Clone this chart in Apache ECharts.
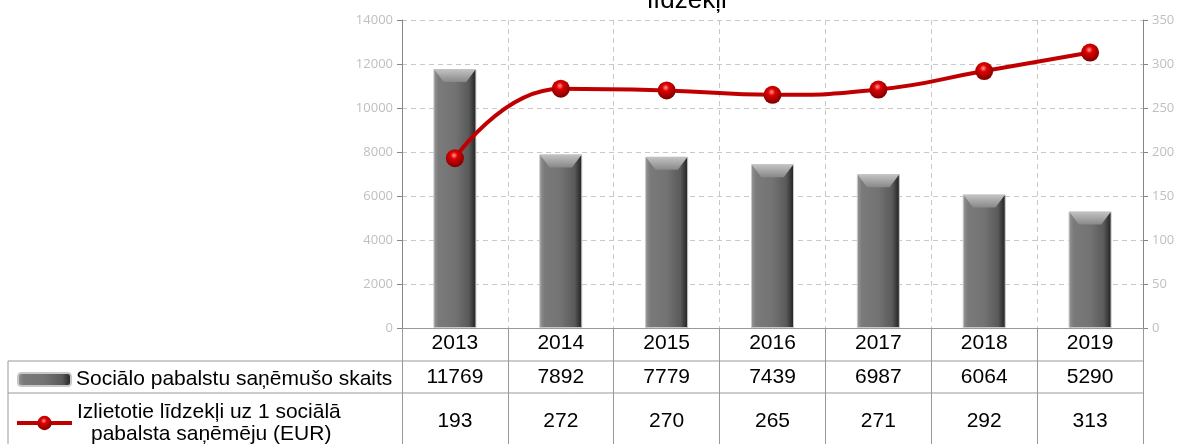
<!DOCTYPE html>
<html>
<head>
<meta charset="utf-8">
<script src="https://cdn.jsdelivr.net/npm/echarts@6/dist/echarts.min.js"></script>
<style>
  html, body { margin: 0; padding: 0; background: #fff; }
  #chart { width: 1185px; height: 444px; }
</style>
</head>
<body>
<div id="chart"></div>
<script>
// data
const years = ['2013', '2014', '2015', '2016', '2017', '2018', '2019'];
const recipients = [11769, 7892, 7779, 7439, 6987, 6064, 5290];
const spendPerRecipient = [193, 272, 270, 265, 271, 292, 313];
const leftTicks = [0, 2000, 4000, 6000, 8000, 10000, 12000, 14000];
const rightTicks = [0, 50, 100, 150, 200, 250, 300, 350];

const barName = 'Sociālo pabalstu saņēmušo skaits';
const lineName = 'Izlietotie līdzekļi uz 1 sociālā pabalsta saņēmēju (EUR)';

const FONT = '"Liberation Sans", Arial, sans-serif';
const chart = echarts.init(document.getElementById('chart'));

// stulpiņa krāsa (slīpums kā Excel bevel)
const barColor = new echarts.graphic.LinearGradient(0, 0, 1, 0, [
  { offset: 0, color: '#979797' },
  { offset: 0.12, color: '#7a7a7a' },
  { offset: 0.5, color: '#737373' },
  { offset: 0.82, color: '#5a5a5a' },
  { offset: 1, color: '#1e1e1e' }
]);
const capColor = new echarts.graphic.LinearGradient(0, 0, 0, 1, [
  { offset: 0, color: '#c4c4c4' },
  { offset: 1, color: '#888888' }
]);
const sphere = {
  type: 'radial', x: 0.45, y: 0.35, r: 0.65,
  colorStops: [
    { offset: 0, color: '#ff9a9a' },
    { offset: 0.3, color: '#e00000' },
    { offset: 1, color: '#7a0000' }
  ]
};

const valueAxisBase = {
  type: 'value',
  min: 0,
  axisLine: { show: true, lineStyle: { color: '#868686' } },
  axisTick: { show: true, length: 5, lineStyle: { color: '#868686' } },
  axisLabel: {
    color: '#bfbfbf', fontSize: 13, fontFamily: '"Open Sans", "Liberation Sans", sans-serif', margin: 9,
    formatter: v => String(v)
  },
  splitLine: { show: true, lineStyle: { color: '#c8c8c8', type: [5, 4] } }
};

// rindas tabulā zem ass
const tableAxis = (labels, offset) => ({
  type: 'category',
  data: years,
  position: 'bottom',
  offset: offset,
  axisLine: { show: false },
  axisTick: { show: false },
  splitLine: { show: false },
  axisLabel: {
    interval: 0,
    margin: 5,
    color: '#000',
    fontSize: 21,
    fontFamily: FONT,
    formatter: (v, i) => String(labels[i])
  }
});

const option = {
  animation: false,
  textStyle: { fontFamily: FONT },
  grid: { left: 402, right: 42, top: 20, bottom: 116, containLabel: false },
  legend: [
    {
      data: [barName],
      left: 17, top: 369, padding: 0,
      itemWidth: 53, itemHeight: 13, itemGap: 3,
      textStyle: { color: '#000', fontSize: 21, fontFamily: FONT }
    },
    {
      data: [lineName],
      left: 15, top: 401, padding: 0,
      itemWidth: 55, itemHeight: 18, itemGap: 3,
      lineStyle: { width: 4 },
      formatter: () => '{a|Izlietotie līdzekļi uz 1 sociālā}\n{b|pabalsta saņēmēju (EUR)}',
      textStyle: {
        color: '#000', fontSize: 21, fontFamily: FONT, lineHeight: 22,
        rich: {
          a: { fontSize: 21, fontFamily: FONT, color: '#000', lineHeight: 22 },
          b: { fontSize: 21, fontFamily: FONT, color: '#000', lineHeight: 22, padding: [0, 0, 0, 14] }
        }
      }
    }
  ],
  xAxis: [
    {
      type: 'category',
      data: years,
      axisLine: { lineStyle: { color: '#999' } },
      axisTick: { show: true, interval: 0, length: 116, lineStyle: { color: '#999' } },
      axisLabel: { interval: 0, margin: 5, color: '#000', fontSize: 21, fontFamily: FONT },
      splitLine: { show: true, interval: 0, lineStyle: { color: '#c8c8c8', type: [5, 4] } }
    },
    tableAxis(recipients, 34),
    tableAxis(spendPerRecipient, 78)
  ],
  yAxis: [
    Object.assign({}, valueAxisBase, {
      max: leftTicks[leftTicks.length - 1],
      interval: leftTicks[1] - leftTicks[0],
      position: 'left'
    }),
    Object.assign({}, valueAxisBase, {
      max: rightTicks[rightTicks.length - 1],
      interval: rightTicks[1] - rightTicks[0],
      position: 'right',
      splitLine: { show: false }
    })
  ],
  series: [
    {
      name: barName,
      type: 'bar',
      data: recipients,
      barWidth: 43,
      itemStyle: { color: barColor, borderColor: '#c8c8c8', borderWidth: 1 },
      z: 2
    },
    {
      // stulpiņa augšējā nošķeltā mala
      name: 'cap',
      type: 'pictorialBar',
      data: recipients,
      symbol: 'path://M0,0 L43,0 L33,13 L10,13 Z',
      symbolSize: [42, 13],
      symbolPosition: 'end',
      symbolOffset: [0, 0],
      itemStyle: { color: capColor },
      z: 3,
      silent: true
    },
    {
      name: lineName,
      type: 'line',
      yAxisIndex: 1,
      data: spendPerRecipient,
      smooth: 0.5,
      symbol: 'circle',
      symbolSize: 18,
      lineStyle: { color: '#c00000', width: 4 },
      itemStyle: { color: sphere, borderWidth: 0 },
      z: 5
    }
  ],
  graphic: [
    {
      type: 'text',
      style: {
        text: 'līdzekļi', x: 687, y: 14,
        textAlign: 'center', textVerticalAlign: 'bottom',
        fontSize: 26, fontFamily: FONT, fill: '#000'
      }
    },
    { type: 'line', shape: { x1: 8, y1: 361, x2: 1143, y2: 361 }, style: { stroke: '#999', lineWidth: 1 } },
    { type: 'line', shape: { x1: 8, y1: 393, x2: 1143, y2: 393 }, style: { stroke: '#999', lineWidth: 1 } },
    { type: 'line', shape: { x1: 8, y1: 361, x2: 8, y2: 444 }, style: { stroke: '#999', lineWidth: 1 } }
  ]
};

chart.setOption(option);
</script>
</body>
</html>
